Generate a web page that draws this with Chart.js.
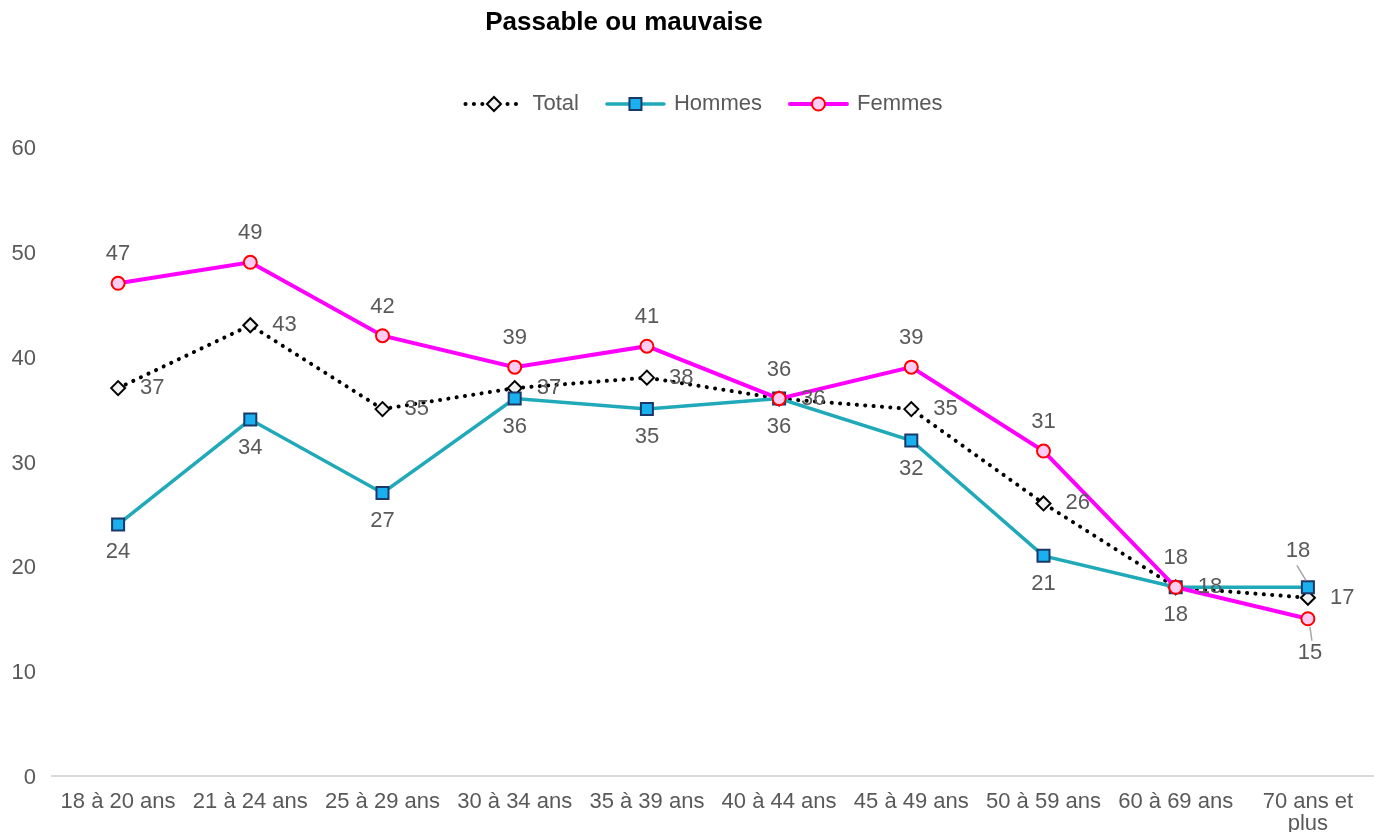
<!DOCTYPE html>
<html>
<head>
<meta charset="utf-8">
<script src="https://cdn.jsdelivr.net/npm/chart.js@4.4.0/dist/chart.umd.min.js"></script>
<style>
  html, body { margin: 0; padding: 0; background: #fff; overflow: hidden; }
  #wrap { width: 1374px; height: 832px; }
</style>
</head>
<body>
<div id="wrap"><canvas id="ageChart" width="1374" height="832"></canvas></div>
<script>
//############################ Data ############################
const ageLabels = ['18 à 20 ans', '21 à 24 ans', '25 à 29 ans', '30 à 34 ans', '35 à 39 ans',
    '40 à 44 ans', '45 à 49 ans', '50 à 59 ans', '60 à 69 ans', ['70 ans et', 'plus']];
const totalValues = [37, 43, 35, 37, 38, 36, 35, 26, 18, 17];
const hommesValues = [24, 34, 27, 36, 35, 36, 32, 21, 18, 18];
const femmesValues = [47, 49, 42, 39, 41, 36, 39, 31, 18, 15];
const yTicks = [0, 10, 20, 30, 40, 50, 60];

const FONT = "'Liberation Sans', Arial, Helvetica, sans-serif";
const GREY_TEXT = '#595959';

// label placement per series (Excel style), plus a couple of moved labels with leader lines
const labelPlacement = {
    Total: { dx: 22, dy: 0, align: 'left' },
    Hommes: { dx: 0, dy: 28, align: 'center' },
    Femmes: { dx: 0, dy: -29, align: 'center' },
};
const movedLabels = {
    Hommes: { 9: { dx: -10, dy: -36, leader: [[-11, -22], [-2, -7]] } },
    Femmes: { 9: { dx: 2, dy: 34, leader: [[2, 8], [4, 22]] } },
};

//############################ Plugins ############################
const titlePlugin = {
    id: 'titlePlugin',
    afterDraw(chart) {
        const ctx = chart.ctx;
        ctx.save();
        ctx.font = 'bold 26px ' + FONT;
        ctx.fillStyle = '#000';
        ctx.textAlign = 'center';
        ctx.textBaseline = 'middle';
        ctx.fillText('Passable ou mauvaise', 624, 23);
        ctx.restore();
    }
};

// legend with line + marker, like the spreadsheet legend
const lineLegendPlugin = {
    id: 'lineLegendPlugin',
    afterDraw(chart) {
        const ctx = chart.ctx;
        const y = 104, lineLen = 57, textGap = 10, itemGap = 28, centerX = 704;
        ctx.save();
        ctx.font = '22px ' + FONT;
        const items = chart.data.datasets.slice().sort((a, b) => a.legendIndex - b.legendIndex);
        const widths = items.map(ds => lineLen + textGap + ctx.measureText(ds.label).width);
        let x = centerX - (widths.reduce((s, w) => s + w, 0) + itemGap * (items.length - 1)) / 2;
        items.forEach((ds, i) => {
            ctx.save();
            ctx.strokeStyle = ds.borderColor;
            ctx.lineWidth = ds.borderWidth;
            ctx.lineCap = ds.borderCapStyle || 'butt';
            ctx.setLineDash(ds.borderDash || []);
            ctx.beginPath();
            ctx.moveTo(x, y);
            ctx.lineTo(x + lineLen, y);
            ctx.stroke();
            ctx.restore();
            ctx.save();
            ctx.fillStyle = ds.pointBackgroundColor;
            ctx.strokeStyle = ds.pointBorderColor;
            ctx.lineWidth = ds.pointBorderWidth;
            Chart.helpers.drawPoint(ctx, { pointStyle: ds.pointStyle, radius: ds.pointRadius, rotation: 0, borderWidth: ds.pointBorderWidth }, x + lineLen / 2, y);
            ctx.restore();
            ctx.fillStyle = GREY_TEXT;
            ctx.textAlign = 'left';
            ctx.textBaseline = 'middle';
            ctx.fillText(ds.label, x + lineLen + textGap, y);
            x += widths[i] + itemGap;
        });
        ctx.restore();
    }
};

const valueLabelPlugin = {
    id: 'valueLabelPlugin',
    afterDatasetsDraw(chart) {
        const ctx = chart.ctx;
        ctx.save();
        ctx.font = '22px ' + FONT;
        ctx.textBaseline = 'middle';
        chart.data.datasets.forEach((ds, di) => {
            const meta = chart.getDatasetMeta(di);
            const base = labelPlacement[ds.label];
            const moved = movedLabels[ds.label] || {};
            meta.data.forEach((pt, i) => {
                const m = moved[i];
                const p = m ? { dx: m.dx, dy: m.dy, align: 'center' } : base;
                if (m && m.leader) {
                    ctx.strokeStyle = '#a6a6a6';
                    ctx.lineWidth = 1.5;
                    ctx.beginPath();
                    ctx.moveTo(pt.x + m.leader[0][0], pt.y + m.leader[0][1]);
                    ctx.lineTo(pt.x + m.leader[1][0], pt.y + m.leader[1][1]);
                    ctx.stroke();
                }
                ctx.fillStyle = GREY_TEXT;
                ctx.textAlign = p.align;
                ctx.fillText(String(ds.data[i]), pt.x + p.dx, pt.y + p.dy);
            });
        });
        ctx.restore();
    }
};

//############################ Chart ############################
const ageChart = new Chart(document.getElementById('ageChart'), {
    type: 'line',
    data: {
        labels: ageLabels,
        datasets: [
            {
                label: 'Total',
                legendIndex: 0,
                order: 2,
                data: totalValues,
                borderColor: '#000000',
                borderWidth: 4,
                borderDash: [0.1, 8.3],
                borderCapStyle: 'round',
                pointStyle: 'rectRot',
                pointRadius: 7,
                pointHoverRadius: 7,
                pointBackgroundColor: '#f2f2f2',
                pointBorderColor: '#000000',
                pointBorderWidth: 2,
                tension: 0,
            },
            {
                label: 'Hommes',
                legendIndex: 1,
                order: 1,
                data: hommesValues,
                borderColor: '#1fa9b9',
                borderWidth: 3.5,
                borderCapStyle: 'round',
                pointStyle: 'rect',
                pointRadius: 8.5,
                pointHoverRadius: 8.5,
                pointBackgroundColor: '#18b0ee',
                pointBorderColor: '#1b3868',
                pointBorderWidth: 2,
                tension: 0,
            },
            {
                label: 'Femmes',
                legendIndex: 2,
                order: 0,
                data: femmesValues,
                borderColor: '#ff00ff',
                borderWidth: 4,
                borderCapStyle: 'round',
                pointStyle: 'circle',
                pointRadius: 6.5,
                pointHoverRadius: 6.5,
                pointBackgroundColor: '#ffccf4',
                pointBorderColor: '#ff0000',
                pointBorderWidth: 2,
                tension: 0,
            },
        ],
    },
    options: {
        responsive: false,
        animation: false,
        events: [],
        layout: {
            autoPadding: false,
            padding: { top: 147, left: 0, right: 0, bottom: 0 },
        },
        plugins: {
            legend: { display: false },
            title: { display: false },
            tooltip: { enabled: false },
        },
        scales: {
            x: {
                offset: true,
                grid: { display: false, drawTicks: false },
                border: { display: true, color: '#d9d9d9', width: 2 },
                ticks: {
                    color: GREY_TEXT,
                    font: { family: FONT, size: 22, lineHeight: 1 },
                    padding: 15,
                    maxRotation: 0,
                    autoSkip: false,
                },
                afterFit(scale) {
                    scale.height = 56;
                    scale.paddingLeft = 0;
                    scale.paddingRight = 0;
                },
            },
            y: {
                min: 0,
                max: 60,
                afterBuildTicks(scale) { scale.ticks = yTicks.map(v => ({ value: v })); },
                grid: { display: false, drawTicks: false },
                border: { display: false },
                ticks: {
                    color: GREY_TEXT,
                    font: { family: FONT, size: 22 },
                    padding: 16,
                    labelOffset: 2,
                },
                afterFit(scale) { scale.width = 52; },
            },
        },
    },
    plugins: [titlePlugin, lineLegendPlugin, valueLabelPlugin],
});
</script>
</body>
</html>
